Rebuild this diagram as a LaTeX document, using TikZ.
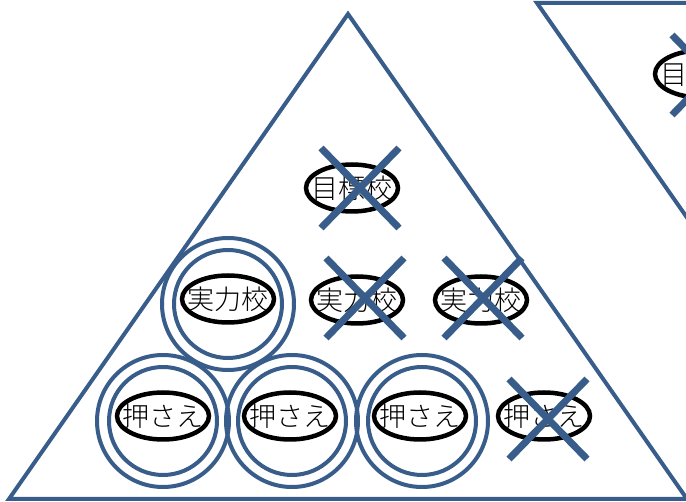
\documentclass[tikz,border=0pt]{standalone}
\usepackage{fontspec}
\newfontfamily\cjk{Noto Sans CJK JP}[UprightFont={* Light}]
\usetikzlibrary{shapes.geometric,calc}
\definecolor{pblue}{RGB}{56,93,138}
\tikzset{
  tri/.style={draw=pblue,line width=4pt,line join=miter},
  ell/.style={draw=black,line width=4.5pt,ellipse,fill=white,minimum width=92pt,minimum height=47pt,inner sep=0pt,font=\cjk\fontsize{27pt}{27pt}\selectfont},
  ring/.style={draw=pblue,line width=4pt},
  cross/.style={draw=pblue,line width=7pt}
}
\newcommand{\mycross}[3]{%
  \draw[cross] ($(#1)+(#2-39,#3-40)$) -- ($(#1)+(#2+39,#3+40)$);
  \draw[cross] ($(#1)+(#2+39,#3-40)$) -- ($(#1)+(#2-39,#3+40)$);}
\newcommand{\myrings}[3]{%
  \draw[ring] ($(#1)+(#2,#3)$) circle (66);
  \draw[ring] ($(#1)+(#2,#3)$) circle (54);}
\begin{document}
\begin{tikzpicture}[x=1pt,y=-1pt]
\useasboundingbox (0,0) rectangle (686,502);
\clip (0,0) rectangle (686,502);
% triangles
\draw[tri] (9,499) -- (348,14) -- (687,499) -- cycle;
\draw[tri] (537,3) -- (1215,3) -- (876,488) -- cycle;
% ellipses
\node[ell] (g1) at (352,188) {\makebox[0pt]{目標校}};
\node[ell] (g2) at (701,74) {\makebox[0pt]{目標校}};
\node[ell] (j1) at (228,299) {\makebox[0pt]{実力校}};
\node[ell] (j2) at (357,300) {\makebox[0pt]{実力校}};
\node[ell] (j3) at (481,300) {\makebox[0pt]{実力校}};
\node[ell] (o1) at (163,416) {\makebox[0pt]{押さえ}};
\node[ell] (o2) at (290,416) {\makebox[0pt]{押さえ}};
\node[ell] (o3) at (420,416) {\makebox[0pt]{押さえ}};
\node[ell] (o4) at (544,416) {\makebox[0pt]{押さえ}};
% double rings
\myrings{j1}{0}{5}
\myrings{o1}{0}{5}
\myrings{o2}{2}{5}
\myrings{o3}{2}{5}
% crosses
\mycross{g1}{8}{0}
\mycross{g2}{10}{1}
\mycross{j2}{8}{-2}
\mycross{j3}{2}{-2}
\mycross{o4}{4}{3}
\end{tikzpicture}
\end{document}
